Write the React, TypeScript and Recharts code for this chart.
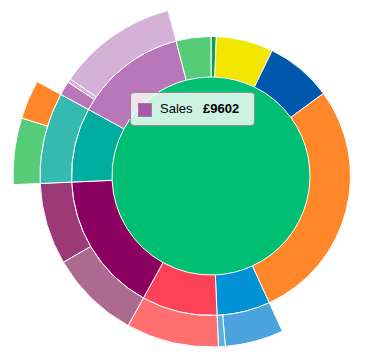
import { Cell, Pie, PieChart } from "recharts";

// angular shares, clockwise from 12 o'clock
const rootData = [{ name: "Total", value: 360 }];

const levelOneNames = ["Spirits", "Beer", "Wine", "Soft drinks", "Water", "Juice", "Snacks", "Dairy", "Bakery", "Fruit"];
const levelOneValues = [2.2, 23.8, 27.7, 101.6, 22.2, 31.5, 58.5, 31, 47, 14.5];
const levelOneColors = ["#0FA04F", "#F2E600", "#0058AD", "#FF8629", "#0092D5", "#FF4157", "#8B0060", "#00AD9E", "#B877B9", "#57CC78"];

// null colour = empty gap (parent has no children there)
const levelTwoNames = ["gap", "Still", "Sparkling", "Orange", "Milk", "Cheese", "Bread", "Apples", "Pears", "Grapes", "gap"];
const levelTwoValues = [155.3, 19.9, 2.3, 31.5, 30.7, 27.8, 31, 4.8, 1.3, 40.9, 14.5];
const levelTwoColors = [null, "#4AA3DA", "#5DAFDA", "#FF6F70", "#AD6A90", "#9B3A77", "#36B9AE", "#B877B9", "#D5B1D8", "#D5B1D8", null];

const levelThreeNames = ["gap", "White", "Brown", "gap"];
const levelThreeValues = [267.5, 19.5, 11.5, 61.5];
const levelThreeColors = [null, "#57CC78", "#FF8629", null];

const toRows = (names: string[], values: number[]) => names.map((name, i) => ({ name, value: values[i] }));

const CX = 211;
const CY = 176;

function Ring({ names, values, colors, inner, outer }: { names: string[]; values: number[]; colors: (string | null)[]; inner: number; outer: number }) {
  return (
    <Pie
      data={toRows(names, values)}
      dataKey="value"
      nameKey="name"
      cx={CX}
      cy={CY}
      innerRadius={inner}
      outerRadius={outer}
      startAngle={90}
      endAngle={-270}
      stroke="#fff"
      strokeWidth={1}
      isAnimationActive={false}
    >
      {values.map((_, i) => (
        <Cell key={i} fill={colors[i] ?? "none"} stroke={colors[i] ? "#fff" : "none"} />
      ))}
    </Pie>
  );
}

export default function App() {
  return (
    <div style={{ position: "absolute", left: 0, top: 0, width: 369, height: 363, fontFamily: "'Liberation Sans', Arial, sans-serif" }}>
      <PieChart width={369} height={363} margin={{ top: 0, right: 0, bottom: 0, left: 0 }}>
        <Pie
          data={rootData}
          dataKey="value"
          cx={CX}
          cy={CY}
          innerRadius={0}
          outerRadius={99}
          stroke="none"
          fill="#00BF72"
          isAnimationActive={false}
        />
        <Ring names={levelOneNames} values={levelOneValues} colors={levelOneColors} inner={99} outer={139.5} />
        <Ring names={levelTwoNames} values={levelTwoValues} colors={levelTwoColors} inner={139.5} outer={171} />
        <Ring names={levelThreeNames} values={levelThreeValues} colors={levelThreeColors} inner={171} outer={198} />
      </PieChart>
      <div
        style={{
          position: "absolute",
          left: 130,
          top: 92,
          width: 123,
          height: 32,
          background: "rgba(255,255,255,0.8)",
          border: "1px solid #8f8f8f",
          borderRadius: 4,
          fontSize: 13,
          color: "#000",
        }}
      >
        <span
          style={{
            position: "absolute",
            left: 7,
            top: 10,
            width: 12,
            height: 12,
            background: "#A957A9",
            border: "1px solid #8a8a8a",
          }}
        />
        <span style={{ position: "absolute", left: 29, top: 8, lineHeight: "16px" }}>Sales</span>
        <span style={{ position: "absolute", left: 72, top: 8, lineHeight: "16px", fontWeight: "bold" }}>£9602</span>
      </div>
    </div>
  );
}
